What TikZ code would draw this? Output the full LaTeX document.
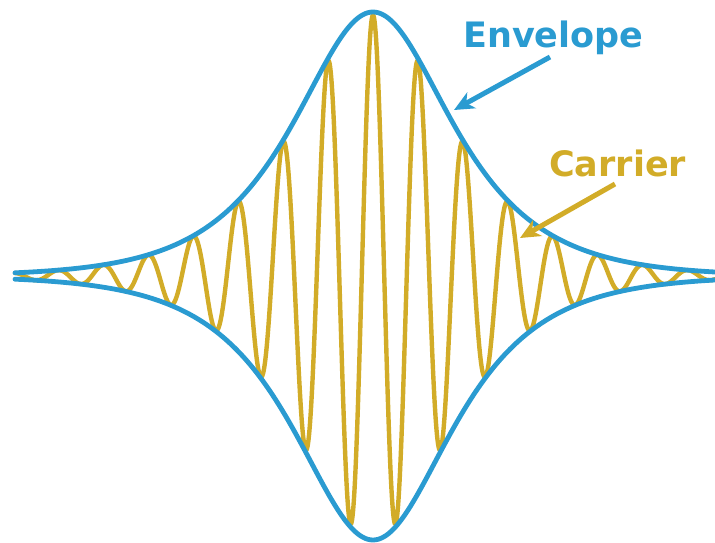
\documentclass[tikz,border=0pt]{standalone}
\usepackage{fontspec}
\setmainfont{DejaVu Sans}
\usetikzlibrary{arrows.meta}
\definecolor{envblue}{RGB}{42,155,209}
\definecolor{cargold}{RGB}{210,172,40}
\tikzset{
  envline/.style={envblue, line width=4.8pt, line join=round, line cap=round},
  carline/.style={cargold, line width=4.4pt, line join=round, line cap=round},
  lbl/.style={font=\fontsize{35}{40}\selectfont\bfseries, inner sep=0pt, anchor=base west},
  pointer/.style={line width=5pt, -{Stealth[length=20pt,width=18pt,inset=6pt]}}
}
\begin{document}
\begin{tikzpicture}[x=1pt,y=-1pt]
\useasboundingbox (0,0) rectangle (715,543);
\begin{scope}
\clip (0,0) rectangle (715,543);
% carrier
\draw[carline] plot[domain=15:715, samples=1401]
  (\x, {276 - 261*(2/(exp((\x-373)/70)+exp(-(\x-373)/70)))*cos(8*(\x-373))});
% envelope
\draw[envline] plot[domain=15:718, samples=400]
  (\x, {276 - 264*(2/(exp((\x-373)/70)+exp(-(\x-373)/70)))});
\draw[envline] plot[domain=15:718, samples=400]
  (\x, {276 + 264*(2/(exp((\x-373)/70)+exp(-(\x-373)/70)))});
\end{scope}
% labels
\node[lbl, text=envblue] (envtext) at (463,48) {Envelope};
\node[lbl, text=cargold] (cartext) at (549,176) {Carrier};
\coordinate (envstart) at (550,57);
\coordinate (envtip) at (454,110);
\coordinate (carstart) at (615,184);
\coordinate (cartip) at (520,238);
\draw[pointer, envblue] (envstart) -- (envtip);
\draw[pointer, cargold] (carstart) -- (cartip);
\end{tikzpicture}
\end{document}
